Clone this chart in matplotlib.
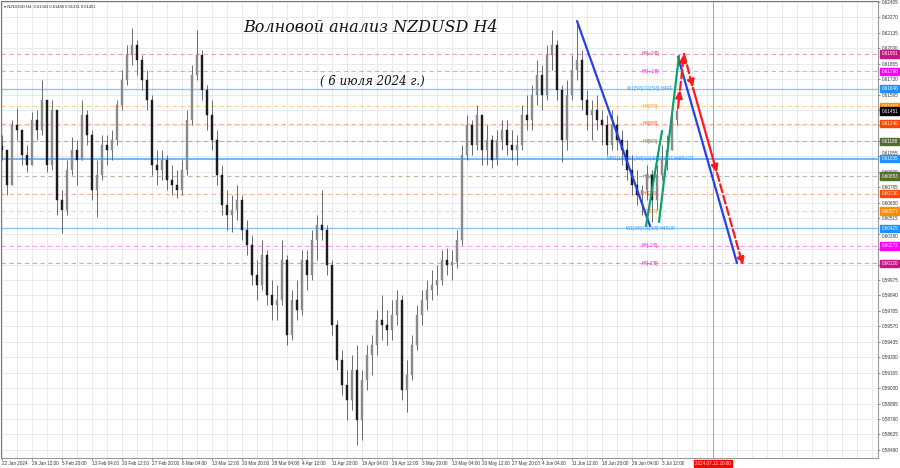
import numpy as np
import matplotlib.pyplot as plt
from matplotlib.transforms import blended_transform_factory

# ---- chart data ----
symbol_header = "\u25be NZDUSD,H4  0.61343 0.61486 0.61331 0.61451"
title_text = "Волновой анализ NZDUSD H4"
subtitle_text = "( 6 июля 2024 г.)"

first_open = 0.61150
highs = [0.61242, 0.61111, 0.61373, 0.61478, 0.61286, 0.61155, 0.61443, 0.61461, 0.61723, 0.61548,
         0.61548, 0.61461, 0.60761, 0.61024, 0.61225, 0.61198, 0.61548, 0.61461, 0.61286, 0.61024,
         0.61242, 0.61242, 0.61286, 0.61548, 0.61810, 0.62029, 0.62177, 0.62072, 0.61941, 0.61810,
         0.61592, 0.61111, 0.61111, 0.61067, 0.60980, 0.60936, 0.61024, 0.61461, 0.61854, 0.62160,
         0.61985, 0.61679, 0.61548, 0.61286, 0.60980, 0.60761, 0.60718, 0.60805, 0.60718, 0.60499,
         0.60368, 0.60150, 0.60324, 0.60237, 0.59975, 0.59931, 0.60324, 0.60193, 0.59887, 0.59975,
         0.60237, 0.60237, 0.60412, 0.60543, 0.60761, 0.60455, 0.60150, 0.59625, 0.59363, 0.59188,
         0.59320, 0.59407, 0.59188, 0.59407, 0.59494, 0.59713, 0.59844, 0.59713, 0.59800, 0.59887,
         0.59844, 0.59276, 0.59494, 0.59756, 0.59887, 0.59975, 0.60062, 0.60106, 0.60237, 0.60255,
         0.60237, 0.60412, 0.61155, 0.61417, 0.61373, 0.61504, 0.61417, 0.61330, 0.61242, 0.61286,
         0.61373, 0.61373, 0.61286, 0.61242, 0.61504, 0.61592, 0.61679, 0.61898, 0.61854, 0.62029,
         0.62160, 0.62072, 0.61679, 0.61723, 0.61941, 0.62230, 0.61985, 0.61636, 0.61548, 0.61592,
         0.61461, 0.61417, 0.61461, 0.61417, 0.61286, 0.61198, 0.61067, 0.60936, 0.60805, 0.60980,
         0.60936, 0.60980, 0.61155, 0.61242, 0.61504, 0.61486]
lows = [0.61024, 0.60718, 0.60805, 0.61198, 0.60980, 0.60919, 0.60980, 0.61198, 0.61242, 0.60919,
        0.60936, 0.60543, 0.60386, 0.60543, 0.60892, 0.60805, 0.61024, 0.61155, 0.60674, 0.60525,
        0.60849, 0.60980, 0.61024, 0.61155, 0.61461, 0.61679, 0.61854, 0.61767, 0.61636, 0.61461,
        0.60892, 0.60805, 0.60849, 0.60761, 0.60718, 0.60692, 0.60718, 0.60892, 0.61330, 0.61723,
        0.61548, 0.61286, 0.61111, 0.60805, 0.60543, 0.60412, 0.60394, 0.60499, 0.60324, 0.60193,
        0.59931, 0.59800, 0.59887, 0.59756, 0.59625, 0.59625, 0.59756, 0.59407, 0.59451, 0.59625,
        0.59669, 0.59887, 0.59975, 0.60150, 0.60324, 0.60019, 0.59494, 0.59188, 0.58970, 0.58752,
        0.58839, 0.58533, 0.58577, 0.59014, 0.59145, 0.59320, 0.59451, 0.59407, 0.59451, 0.59582,
        0.58926, 0.58821, 0.59101, 0.59363, 0.59582, 0.59713, 0.59800, 0.59844, 0.59931, 0.60019,
        0.59975, 0.60080, 0.60281, 0.61024, 0.61067, 0.61111, 0.60980, 0.60980, 0.60954, 0.60980,
        0.61111, 0.61067, 0.61024, 0.60980, 0.61111, 0.61286, 0.61286, 0.61504, 0.61461, 0.61548,
        0.61810, 0.61548, 0.61006, 0.61111, 0.61548, 0.61723, 0.61461, 0.61286, 0.61198, 0.61286,
        0.61155, 0.61067, 0.61111, 0.61111, 0.60980, 0.60849, 0.60718, 0.60630, 0.60543, 0.60674,
        0.60482, 0.60587, 0.60849, 0.60936, 0.61111, 0.61331]
closes = [0.61111, 0.60805, 0.61330, 0.61286, 0.61067, 0.60980, 0.61373, 0.61286, 0.61548, 0.60980,
          0.61461, 0.60674, 0.60587, 0.60936, 0.61111, 0.61024, 0.61417, 0.61242, 0.60761, 0.60892,
          0.61155, 0.61111, 0.61198, 0.61504, 0.61723, 0.61941, 0.62029, 0.61898, 0.61723, 0.61548,
          0.60980, 0.60936, 0.61024, 0.60849, 0.60805, 0.60761, 0.60936, 0.61373, 0.61767, 0.61941,
          0.61636, 0.61417, 0.61198, 0.60892, 0.60630, 0.60543, 0.60587, 0.60674, 0.60412, 0.60281,
          0.60019, 0.59931, 0.60193, 0.59844, 0.59756, 0.59800, 0.60150, 0.59494, 0.59800, 0.59713,
          0.60150, 0.60019, 0.60324, 0.60455, 0.60412, 0.60106, 0.59582, 0.59276, 0.59057, 0.58926,
          0.59188, 0.58752, 0.59101, 0.59320, 0.59407, 0.59625, 0.59582, 0.59538, 0.59669, 0.59800,
          0.59014, 0.59145, 0.59407, 0.59669, 0.59800, 0.59887, 0.59931, 0.59975, 0.60150, 0.60106,
          0.60132, 0.60324, 0.61067, 0.61330, 0.61155, 0.61417, 0.61111, 0.61198, 0.61024, 0.61198,
          0.61286, 0.61155, 0.61111, 0.61155, 0.61417, 0.61373, 0.61592, 0.61767, 0.61592, 0.61941,
          0.62029, 0.61636, 0.61198, 0.61592, 0.61810, 0.61898, 0.61548, 0.61417, 0.61461, 0.61373,
          0.61330, 0.61155, 0.61330, 0.61198, 0.61111, 0.60936, 0.60805, 0.60718, 0.60761, 0.60892,
          0.60674, 0.60892, 0.61024, 0.61111, 0.61373, 0.61451]

date_labels = ["22 Jan 2024", "29 Jan 12:00", "5 Feb 20:00", "13 Feb 04:00", "20 Feb 12:00",
               "27 Feb 20:00", "6 Mar 04:00", "13 Mar 12:00", "20 Mar 20:00", "28 Mar 04:00",
               "4 Apr 12:00", "11 Apr 20:00", "19 Apr 04:00", "26 Apr 12:00", "3 May 20:00",
               "13 May 04:00", "20 May 12:00", "27 May 20:00", "4 Jun 04:00", "11 Jun 12:00",
               "18 Jun 20:00", "26 Jun 04:00", "3 Jul 12:00"]
future_label = "2024.07.12 20:00"
future_bar = 142.2

level_prices = [0.61951, 0.61798, 0.61646, 0.61493, 0.61340, 0.61188, 0.61035,
                0.60883, 0.60730, 0.60577, 0.60425, 0.60272, 0.60120]
level_names = ["H4[+2/8]", "H4[+1/8]", "W1[5/8] D1[5/8] H4RE", "H4[7/8]", "H4[6/8]", "H4[5/8]",
               "MN1[1/8] W1[4/8] D1[4/8]PIVOT H4PIVOT", "H4[3/8]", "H4[2/8]", "H4[1/8]",
               "W1[3/8] D1[3/8] H4SUP", "H4[-1/8]", "H4[-2/8]"]
level_colors = ["#C71585", "#FF00FF", "#1E90FF", "#FF8C00", "#FF4500", "#556B2F", "#1E90FF",
                "#556B2F", "#FF4500", "#FF8C00", "#1E90FF", "#FF00FF", "#C71585"]
level_styles = ["--", "--", "-", "--", "--", "--", "-", "--", "--", "--", "-", "--", "--"]
current_price = 0.61451

# price-scale ticks hidden behind the coloured tags in the reference
hidden_ticks = ["0.61460", "0.61325", "0.61190", "0.60245", "0.60110"]

# wave markup: (bar, price) pairs
blue_wave_1 = ([115.0, 129.6], [0.62238, 0.60447])
green_wave_a = ([128.8, 132.0], [0.60447, 0.61277])
green_wave_b = ([131.4, 135.4], [0.60482, 0.61933])
blue_wave_2 = ([135.2, 147.0], [0.61924, 0.60123])
red_bars = [135.2, 135.6, 136.4, 138.2, 143.0, 148.2]
red_prices = [0.61478, 0.61636, 0.61951, 0.61653, 0.60910, 0.60100]
red_styles = ["-", "--", "--", "-", "--"]

# ---- figure ----
W, H = 900, 468
fig = plt.figure(figsize=(W / 100, H / 100), dpi=100)
ax = fig.add_axes([1 / W, 10 / H, 877 / W, 457 / H])
ax.set_xlim(-0.2, 175.2)
ax.set_ylim(0.58419, 0.62413)

label_font = ["Liberation Sans", "DejaVu Sans"]
small = 3.3

# grid
price_ticks = [0.62405 - 0.00135 * k for k in range(30)]
for p in price_ticks:
    ax.axhline(p, color="#e6e6e6", lw=0.6, zorder=0)
for b in np.arange(0, 176, 3):
    ax.axvline(b, color="#e6e6e6", lw=0.6, zorder=0)

# murrey levels
for p, name, c, ls in zip(level_prices, level_names, level_colors, level_styles):
    lw = 1.0 if ls == "-" else 0.8
    alpha = 0.5 if ls == "-" else 0.42
    if name.startswith("MN1"):
        lw, alpha = 1.2, 0.75
    ax.axhline(p, color=c, lw=lw, ls=ls, alpha=alpha,
               dashes=(4, 3) if ls == "--" else (None, None), zorder=1)
    ax.text(129.6, p, name, color=c, fontsize=small, family=label_font,
            ha="center", va="center", zorder=1.5, alpha=0.9)

# candles
opens = [first_open] + closes[:-1]
x = np.arange(len(closes))
up_col, dn_col = "#8a8a8a", "#1c1c1c"
for i in x:
    o, c = opens[i], closes[i]
    col = up_col if c >= o else dn_col
    ax.vlines(i, lows[i], highs[i], color="#555555", lw=0.6, zorder=2)
    ax.bar(i, max(abs(c - o), 0.00004), bottom=min(o, c), width=0.5,
           color=col, edgecolor=col, lw=0.3, zorder=2.2)

# future time marker
ax.axvline(future_bar, color="#ff6060", lw=0.7, alpha=0.8, zorder=1)

# waves
ax.plot(*blue_wave_1, color="#2440f0", lw=1.6, zorder=4, solid_capstyle="round")
ax.plot(*blue_wave_2, color="#2440f0", lw=1.6, zorder=4, solid_capstyle="round")
ax.plot(*green_wave_a, color="#10a070", lw=1.6, zorder=4, solid_capstyle="round")
ax.plot(*green_wave_b, color="#10a070", lw=1.6, zorder=4, solid_capstyle="round")
for k, ls in enumerate(red_styles):
    ax.annotate("", xy=(red_bars[k + 1], red_prices[k + 1]), xytext=(red_bars[k], red_prices[k]),
                arrowprops=dict(arrowstyle="-|>,head_length=0.45,head_width=0.2", color="#ff1a1a",
                                lw=1.6, linestyle=ls, shrinkA=0, shrinkB=0),
                zorder=5)

# axes cosmetics
for s in ["top", "left"]:
    ax.spines[s].set_color("#777777")
    ax.spines[s].set_linewidth(0.8)
for s in ["right", "bottom"]:
    ax.spines[s].set_color("#999999")
    ax.spines[s].set_linewidth(0.8)

ax.yaxis.tick_right()
ax.set_yticks(price_ticks)
tick_texts = [f"{p:.5f}" for p in price_ticks]
ax.set_yticklabels(["" if t in hidden_ticks else t for t in tick_texts],
                   fontsize=small, family=label_font)
ax.tick_params(axis="y", length=1.5, width=0.4, pad=1.5, colors="#333333")
for lab in ax.get_yticklabels():
    if lab.get_text() == "0.61055":
        lab.set_va("bottom")
    elif lab.get_text() == "0.60380":
        lab.set_va("top")

ax.set_xticks(np.arange(len(date_labels)) * 6)
ax.set_xticklabels(date_labels, fontsize=small, family=label_font, ha="left")
ax.tick_params(axis="x", length=1.5, width=0.4, pad=1.0, colors="#333333")

# coloured level tags on price scale
trans = blended_transform_factory(ax.transAxes, ax.transData)
for p, c in zip(level_prices, level_colors):
    ax.text(1.004, p, f"{p:.5f}", transform=trans, color="white", fontsize=small,
            family=label_font, ha="left", va="center", clip_on=False, zorder=10,
            bbox=dict(boxstyle="square,pad=0.25", fc=c, ec=c))
ax.text(1.004, current_price, f"{current_price:.5f}", transform=trans, color="white",
        fontsize=small, family=label_font, ha="left", va="center", clip_on=False, zorder=10,
        bbox=dict(boxstyle="square,pad=0.25", fc="black", ec="black"))

# future date tag
tb = blended_transform_factory(ax.transData, ax.transAxes)
ax.text(future_bar, -0.006, future_label, transform=tb, color="white", fontsize=small,
        family=label_font, ha="center", va="top", clip_on=False, zorder=10,
        bbox=dict(boxstyle="square,pad=0.25", fc="#ff0000", ec="#ff0000"))

# header and titles
ax.text(0.003, 0.993, symbol_header, transform=ax.transAxes, fontsize=3.0, family=label_font,
        ha="left", va="top", color="#222222", zorder=10)
fig.text(371 / W, 1 - 28 / H, title_text, fontsize=11.5, family="DejaVu Serif", style="italic",
         ha="center", va="center", color="#111111")
fig.text(372 / W, 1 - 81 / H, subtitle_text, fontsize=8.5, family="DejaVu Serif", style="italic",
         ha="center", va="center", color="#111111")

fig.savefig("out.png", dpi=100, facecolor="white")
